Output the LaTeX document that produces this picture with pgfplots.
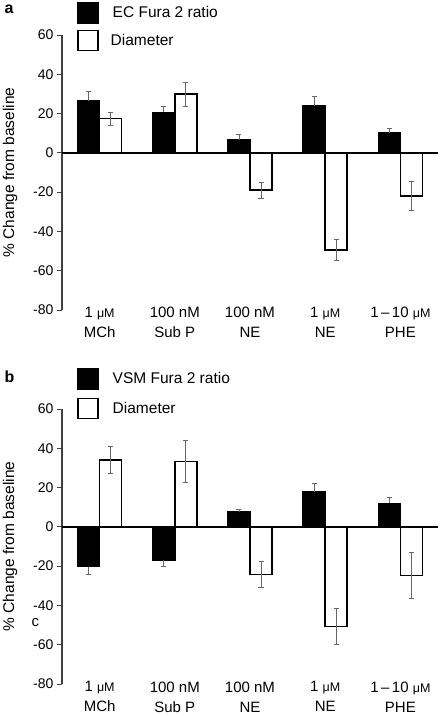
\documentclass[border=0pt]{standalone}
\usepackage{fontspec}
\setmainfont{Liberation Sans}
\usepackage{pgfplots}
\pgfplotsset{compat=1.18}
\newcommand\um{{\fontsize{12.5bp}{12.5bp}\selectfont μM}}
\pgfplotsset{
 panel/.style={
  scale only axis, width=376bp, height=275bp,
  xmin=-0.5, xmax=4.5, ymin=-80, ymax=60,
  axis x line*=bottom, axis y line*=left,
  x axis line style={draw=none},
  y axis line style={line width=1.2bp, draw=black!75},
  xtick={0,1,2,3,4},
  xtick style={draw=none},
  xticklabels={{1 \um\\[1bp]MCh},{100 nM\\[1bp]Sub P},{100 nM\\[1bp]NE},{1 \um\\[1bp]NE},{1\,–\,10 \um\\[1bp]PHE}},
  xticklabel style={align=center, font=\fontsize{15bp}{19bp}\selectfont, anchor=north, yshift=11bp},
  ytick={-80,-60,...,60},
  ytick style={line width=1bp, draw=black!75},
  tick align=outside, major tick length=5bp,
  yticklabel style={font=\fontsize{14bp}{14bp}\selectfont},
  /pgf/number format/assume math mode=true,
  ylabel={\% Change from baseline},
  every axis y label/.style={at={(rel axis cs:0,0.5)}, xshift=-52bp, rotate=90, anchor=center, font=\fontsize{15.5bp}{15.5bp}\selectfont},
  legend cell align=left,
  legend image code/.code={\draw[#1,line width=1.5bp] (0bp,-10bp) rectangle (20bp,10bp);},
  legend style={anchor=north west, draw=none, fill=none, inner sep=0pt, font=\fontsize{15.5bp}{15.5bp}\selectfont, nodes={inner sep=0pt}},
 },
 blk/.style={ybar, bar width=22bp, bar shift=-11bp, fill=black, draw=black, line width=1.5bp},
 wht/.style={ybar, bar width=22bp, bar shift=11bp, fill=white, draw=black, line width=1.5bp},
 errp/.style={draw=none, mark=none, forget plot,
   /pgfplots/error bars/y explicit,
   /pgfplots/error bars/error bar style={draw=black!60, line width=0.8bp, solid},
   /pgfplots/error bars/error mark options={draw=black!60, line width=0.8bp, mark size=2.5bp, rotate=90}},
}
\begin{document}
\begin{tikzpicture}
\path[use as bounding box] (0,0) rectangle (442bp,-716bp);
% panel a
\begin{axis}[panel, at={(62bp,-310bp)}, anchor=south west,
  legend style={at={(rel axis cs:0.04,1.12)}, row sep=6bp}]
\addplot[blk] coordinates {(0,26.5) (1,20.6) (2,6.6) (3,24.0) (4,10.2)};
\addlegendentry{\hspace*{14bp}EC Fura 2 ratio}
\addplot[wht] coordinates {(0,17.5) (1,29.9) (2,-19.0) (3,-49.5) (4,-22.0)};
\addlegendentry{\hspace*{12bp}Diameter}
\draw[line width=1.5bp] (axis cs:-0.5,0) -- (axis cs:4.5,0);
\addplot[errp, /pgfplots/error bars/y dir=plus] coordinates {
 (-0.1463,26.5) +- (0,5)
 (0.8537,20.6) +- (0,3)
 (1.8537,6.6) +- (0,2.6)
 (2.8537,24.0) +- (0,5)
 (3.8537,10.2) +- (0,2.2)
};
\addplot[errp, /pgfplots/error bars/y dir=both] coordinates {
 (0.1463,17.5) +- (0,3.3)
 (1.1463,29.9) +- (0,6)
 (2.1463,-19.0) +- (0,4)
 (3.1463,-49.5) +- (0,5.5)
 (4.1463,-22.0) +- (0,7.5)
};
\end{axis}
% panel b
\begin{axis}[panel, at={(62bp,-684bp)}, anchor=south west,
  legend style={at={(rel axis cs:0.04,1.149)}, row sep=8bp}]
\addplot[blk] coordinates {(0,-20.2) (1,-17.0) (2,7.6) (3,17.7) (4,12.0)};
\addlegendentry{\hspace*{14bp}VSM Fura 2 ratio}
\addplot[wht] coordinates {(0,34.0) (1,33.3) (2,-24.3) (3,-50.6) (4,-24.8)};
\addlegendentry{\hspace*{14bp}Diameter}
\draw[line width=1.5bp] (axis cs:-0.5,0) -- (axis cs:4.5,0);
\addplot[errp, /pgfplots/error bars/y dir=minus] coordinates {
 (-0.1463,-20.2) +- (0,4)
 (0.8537,-17.0) +- (0,3)
};
\addplot[errp, /pgfplots/error bars/y dir=plus] coordinates {
 (1.8537,7.6) +- (0,1.2)
 (2.8537,17.7) +- (0,4.4)
 (3.8537,12.0) +- (0,3)
};
\addplot[errp, /pgfplots/error bars/y dir=both] coordinates {
 (0.1463,34.0) +- (0,7)
 (1.1463,33.3) +- (0,10.6)
 (2.1463,-24.3) +- (0,6.6)
 (3.1463,-50.6) +- (0,9)
 (4.1463,-24.8) +- (0,11.7)
};
\end{axis}
\node[anchor=base west, font=\bfseries\fontsize{16bp}{16bp}\selectfont] at (1bp,-13bp) {a};
\node[anchor=base west, font=\bfseries\fontsize{16bp}{16bp}\selectfont] at (1bp,-382bp) {b};
\node[anchor=base west, font=\fontsize{15bp}{15bp}\selectfont] at (28bp,-626bp) {c};
\end{tikzpicture}
\end{document}
